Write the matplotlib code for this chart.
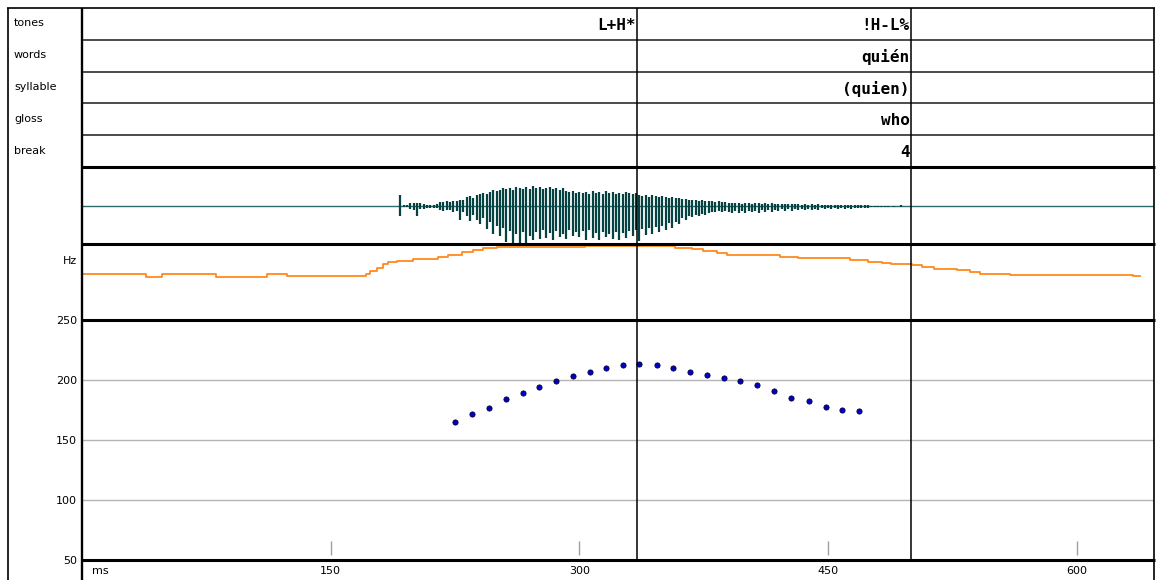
import matplotlib
matplotlib.use("Agg")
import matplotlib.pyplot as plt
import numpy as np

W, H = 1156, 580
T_MAX = 646.5  # ms shown across the window

# annotation tiers (label times are right edges of each interval, in ms)
TIER_NAMES = ["tones", "words", "syllable", "gloss", "break"]
TIER_TIMES = [[335, 500], [500], [500], [500], [500]]
TIER_LABELS = [["L+H*", "!H-L%"], ["quién"], ["(quien)"], ["who"], ["4"]]
BOUNDARIES = [335, 500]

# waveform: one stroke every 2 ms starting at 190 ms (upper / lower excursion)
WAVE_START, WAVE_STEP = 190, 2
wave_hi = [
    0, 11, 1, 1, 3, 3, 3, 3, 2, 1.5,
    1.5, 1.5, 2, 4, 4, 5, 4, 5, 5, 6,
    6, 9, 10, 8, 11, 12, 13, 12, 14, 16,
    15, 16, 18, 17, 18, 16, 19, 18, 17, 19,
    17, 20, 18, 19, 17, 18, 19, 17, 18, 16,
    18, 15, 14, 15, 13, 14, 13, 14, 12, 15,
    13, 14, 12, 15, 13, 14, 12, 13, 12, 14,
    13, 12, 13, 11, 10, 11, 9, 11, 10, 9,
    10, 9, 8, 9, 8, 8, 7, 7, 6, 6,
    6, 5, 6, 5, 5, 5, 4, 5, 4, 4,
    3, 3, 3, 3, 2, 3, 3, 2, 3, 3,
    2, 3, 2, 3, 2, 2, 2, 2, 2, 2,
    2, 2, 1.5, 2, 1.5, 2, 1.5, 2, 1.5, 1.5,
    1, 1.5, 1, 1.5, 1, 1.5, 1, 1.5, 1, 1,
    1, 1, 0.8, 0.5, 0.5, 0.5, 0.3, 0.5, 0.3, 0.3,
    0.5, 0.3, 1.5, 0.5,
]
wave_lo = [
    0, -10, -1, -1, -3, -4, -10, -3, -3, -1.5,
    -2, -1.5, -2, -4, -5, -4, -4, -6, -5, -14,
    -6, -10, -15, -9, -14, -18, -12, -23, -16, -28,
    -20, -30, -22, -36, -25, -37, -28, -38, -26, -38,
    -30, -34, -26, -33, -24, -32, -27, -34, -25, -31,
    -28, -33, -24, -30, -26, -31, -25, -34, -24, -32,
    -27, -34, -26, -31, -28, -33, -26, -34, -27, -32,
    -25, -30, -24, -35, -23, -29, -22, -28, -21, -26,
    -20, -24, -17, -22, -16, -18, -12, -14, -10, -11,
    -9, -10, -8, -9, -7, -6, -6, -5, -6, -5,
    -6, -7, -5, -7, -5, -7, -5, -6, -5, -7,
    -4, -6, -4, -6, -4, -5, -3, -5, -3, -5,
    -3, -4, -3, -4, -3, -4, -3, -4, -2, -3,
    -2, -3, -2, -3, -2, -2.5, -2, -2.5, -1.5, -2,
    -1.5, -2, -1.5, -1, -0.5, -1, -0.5, -0.5, -0.8, -0.3,
    -0.5, -0.3, -0.5, -0.3,
]

# contour track (step values, panel units 0-76)
cont_t = [0, 0, 38.4, 48.1, 80.7, 111.4, 123.5, 171.1, 173.6, 177.8, 181.4,
          184.4, 189.8, 199.5, 214.6, 220.6, 229.0, 235.7, 241.7, 250.1, 303.2,
          357.5, 367.7, 374.4, 382.8, 388.9, 420.9, 431.7, 463.1, 474.0, 482.4,
          487.9, 500.5, 506.6, 513.8, 527.7, 535.5, 541.6, 559.7, 633.8, 638.0]
cont_v = [1, 45.7, 43.3, 45.7, 43.3, 45.7, 44.0, 46.5, 49, 52.3, 55.7,
          58, 59, 61.3, 63, 65, 68, 70, 72, 73.4, 74.2,
          72.3, 70.7, 69, 66.7, 64.7, 63.3, 61.7, 60, 58.3, 56.7,
          55.7, 54.7, 53, 51.3, 49.7, 48, 46.3, 45.3, 43.7, 43.7]

# F0 track
f0_t = [225.2, 235.3, 245.3, 255.6, 265.8, 275.9, 285.9, 296.0, 306.1, 316.3,
        326.3, 336.2, 346.5, 356.5, 366.8, 376.8, 386.9, 396.9, 407.0, 417.2,
        427.3, 438.2, 448.4, 458.4, 468.7]
f0_hz = [165.3, 171.7, 176.4, 184.2, 189.2, 194.2, 199.2, 203.3, 206.9, 209.7,
         212.2, 213.3, 212.2, 209.7, 206.9, 204.4, 201.9, 199.2, 195.6, 190.6,
         185.2, 182.7, 177.7, 175.2, 173.9]

HZ_TICKS = [50, 100, 150, 200, 250]
HZ_GRID = [100, 150, 200]
MS_TICKS = [150, 300, 450, 600]

WAVE_COLOR = "#064242"
ORANGE = "#ff8a1c"

fig = plt.figure(figsize=(W / 100, H / 100), dpi=100)
fig.patch.set_facecolor("white")


def panel(x0, y0, x1, y1):
    ax = fig.add_axes([x0 / W, 1 - y1 / H, (x1 - x0) / W, (y1 - y0) / H])
    ax.set_xlim(0, T_MAX)
    ax.patch.set_alpha(0)
    for s in ax.spines.values():
        s.set_visible(False)
    ax.set_xticks([])
    ax.set_yticks([])
    return ax


# tiers
ax_tier = panel(82, 8, 1154, 167)
ax_tier.set_ylim(len(TIER_NAMES), 0)
for i, (times, labels) in enumerate(zip(TIER_TIMES, TIER_LABELS)):
    for t, lab in zip(times, labels):
        ax_tier.text(t - 1, i + 0.55, lab, ha="right", va="center",
                     family="DejaVu Sans Mono", weight="bold", fontsize=11.5)
for i in range(1, len(TIER_NAMES)):
    ax_tier.axhline(i, color="#1a1a1a", lw=1.1)

# waveform
ax_wave = panel(82, 167, 1154, 244)
ax_wave.set_ylim(-38, 39)
wave_t = WAVE_START + WAVE_STEP * np.arange(len(wave_hi))
ax_wave.axhline(0, color="#2d6b6b", lw=1.0)
ax_wave.vlines(wave_t, wave_lo, wave_hi, color=WAVE_COLOR, lw=1.6)

# contour
ax_cont = panel(82, 244, 1154, 320)
ax_cont.set_ylim(0, 76)
ax_cont.plot(cont_t, cont_v, drawstyle="steps-post", color=ORANGE, lw=1.3)

# F0
ax_f0 = panel(82, 320, 1154, 560)
ax_f0.set_ylim(50, 250)
for g in HZ_GRID:
    ax_f0.axhline(g, color="#b4b4b4", lw=1.0, zorder=1)
ax_f0.scatter(f0_t, f0_hz, s=14, color="#0000c8", edgecolor="#000030",
              linewidth=0.6, zorder=3)
ax_f0.set_yticks(HZ_TICKS)
ax_f0.set_xticks(MS_TICKS)
ax_f0.tick_params(axis="both", length=0, labelsize=8)
ax_f0.tick_params(axis="y", pad=3.6)
ax_f0.tick_params(axis="x", pad=4)
ax_f0.vlines(MS_TICKS, 0.021, 0.079, transform=ax_f0.get_xaxis_transform(),
             color="#a0a0a0", lw=1.0)

for ax in (ax_tier, ax_wave, ax_cont, ax_f0):
    for b in BOUNDARIES:
        ax.axvline(b, color="black", lw=1.1, zorder=4)

# frame and labels, drawn in pixel coordinates
ax_frame = fig.add_axes([0, 0, 1, 1], zorder=10)
ax_frame.set_xlim(0, W)
ax_frame.set_ylim(H, 0)
ax_frame.axis("off")
ax_frame.patch.set_alpha(0)
frame = dict(color="black", solid_capstyle="butt")
ax_frame.plot([7, 1155], [8, 8], lw=1.2, **frame)
ax_frame.plot([8, 8], [8, 580], lw=1.2, **frame)
ax_frame.plot([1154, 1154], [8, 580], lw=1.2, **frame)
ax_frame.plot([82, 82], [8, 580], lw=1.7, **frame)
for y in (167, 244, 320, 560):
    ax_frame.plot([82, 1155], [y, y], lw=2.2, **frame)

for name, y in zip(TIER_NAMES, [23, 55, 87, 119, 151]):
    ax_frame.text(14, y, name, ha="left", va="center", fontsize=8)
ax_frame.text(77, 261, "Hz", ha="right", va="center", fontsize=8)
ax_frame.text(92, 571, "ms", ha="left", va="center", fontsize=8)

fig.savefig("out.png", dpi=100)
